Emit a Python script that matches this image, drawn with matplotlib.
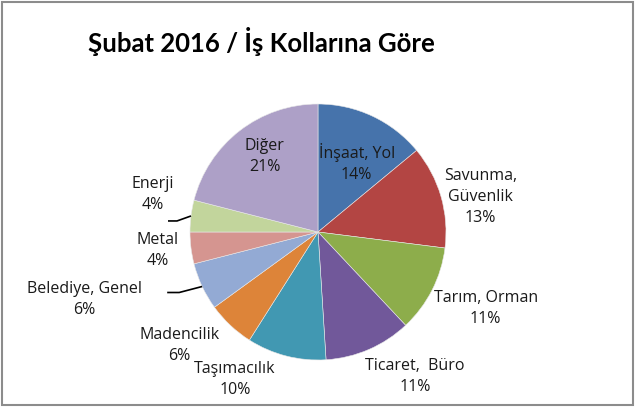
import matplotlib
matplotlib.use("Agg")
import matplotlib.pyplot as plt
import numpy as np
from matplotlib.patches import Rectangle

categories = ["İnşaat, Yol", "Savunma,\nGüvenlik", "Tarım, Orman", "Ticaret,  Büro",
              "Taşımacılık", "Madencilik", "Belediye, Genel", "Metal", "Enerji", "Diğer"]
values = [14, 13, 11, 11, 10, 6, 6, 4, 4, 21]
colors = ["#4673AB", "#B34543", "#8DAD4B", "#71589A", "#4198B2",
          "#DD8439", "#93AAD4", "#D59590", "#C2D59C", "#ADA0C7"]
title = "Şubat 2016 / İş Kollarına Göre"

# label layout: (radius factor, angle nudge in degrees)
label_layout = [(0.62, -4), (1.30, -4), (1.44, 2.5), (1.36, 10.5), (1.32, -15),
                (1.40, -7.5), (1.90, -9), (1.26, -0.5), (1.32, -5.5), (0.72, -2.5)]

W, H = 635, 407
fig = plt.figure(figsize=(W / 100, H / 100), dpi=100)
fig.patch.set_facecolor("white")

cx, cy, R = 318, 232, 128
ax = fig.add_axes([(cx - R) / W, (H - cy - R) / H, 2 * R / W, 2 * R / H])
wedges, _ = ax.pie(values, colors=colors, startangle=90, counterclock=False,
                   radius=1.0, wedgeprops=dict(edgecolor="#e8e8e8", linewidth=0.4))
ax.set_xlim(-1, 1)
ax.set_ylim(-1, 1)
ax.set_aspect("equal")
ax.axis("off")

font = "Open Sans"
for i, (w, cat, v) in enumerate(zip(wedges, categories, values)):
    mid = 0.5 * (w.theta1 + w.theta2)
    rf, dn = label_layout[i]
    a = np.deg2rad(mid + dn)
    x, y = rf * np.cos(a), rf * np.sin(a)
    ax.text(x, y, f"{cat}\n{v}%", ha="center", va="center", fontsize=11.5,
            family=font, color="#1a1a1a", linespacing=1.42, clip_on=False)
    if i in (6, 8):
        am = np.deg2rad(mid)
        px, py = np.cos(am), np.sin(am)
        if i == 8:
            ex, ey = px - 14 / R, py - 5 / R
            hx = ex - 9 / R
        else:
            ex, ey = px - 23 / R, py - 6 / R
            hx = ex - 12 / R
        ax.plot([px, ex, hx], [py, ey, ey], color="black", lw=1.2,
                clip_on=False, solid_capstyle="butt")

fig.text(261 / W, 1 - 41 / H, title, ha="center", va="center", fontsize=18.5,
         fontweight="bold", family="Lato", color="black")

fig.patches.append(Rectangle((1.5 / W, 2.5 / H), (W - 4) / W, (H - 4) / H,
                             transform=fig.transFigure, fill=False,
                             edgecolor="#8c8c8c", linewidth=1.5))

fig.savefig("out.png", dpi=100, facecolor="white")
